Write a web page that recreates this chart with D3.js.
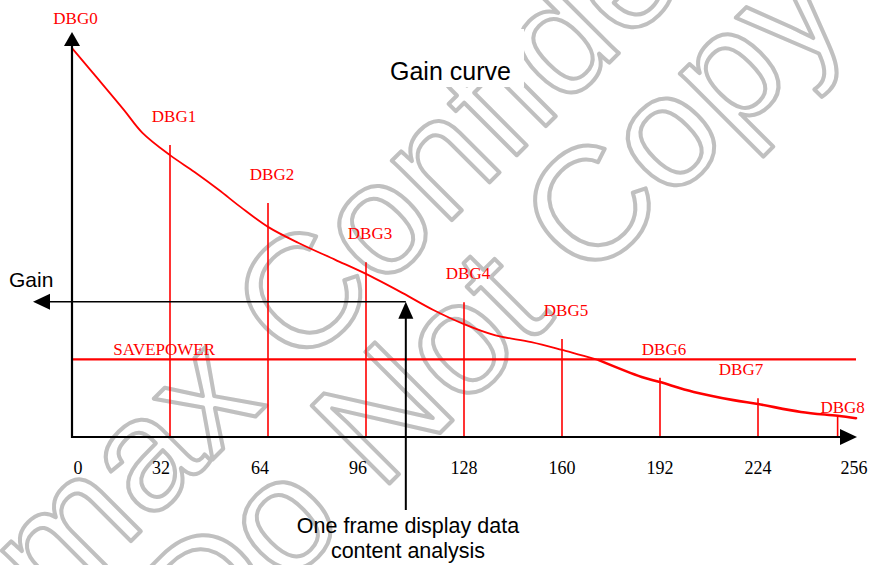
<!DOCTYPE html>
<html>
<head>
<meta charset="utf-8">
<script src="https://cdn.jsdelivr.net/npm/d3@7"></script>
<style>
  html, body { margin: 0; padding: 0; background: #fff; }
  svg { display: block; }
</style>
</head>
<body>
<svg id="chart" width="873" height="565"></svg>
<script>
// Horizontal axis: display-data level (0..256)
const xTicks = [0, 32, 64, 96, 128, 160, 192, 224, 256];

// Gain curve sampled along the data level
const curveX    = [0, 8, 17, 23, 32, 40, 48, 55, 64, 74, 86, 96, 108, 118, 128, 138, 150, 160, 172, 186, 192, 203, 216, 224, 238, 250, 256];
const curveGain = [99.2, 91.8, 83.4, 77.6, 71.9, 67.6, 63.0, 58.7, 53.6, 49.5, 45.2, 41.6, 36.7, 32.4, 28.8, 26.0, 24.2, 22.2, 19.6, 15.3, 14.0, 11.5, 9.4, 8.4, 6.4, 5.4, 4.8];

// DBG gain registers: position on the data axis and height of their marker
const dbgNames = ["DBG0", "DBG1", "DBG2", "DBG3", "DBG4", "DBG5", "DBG6", "DBG7", "DBG8"];
const dbgX     = [0, 32, 64, 96, 128, 160, 192, 224, 250];
const dbgTop   = [104, 74.5, 59.7, 44.6, 34.4, 25.0, 15.1, 9.9, 5.1];

// Save-power threshold and the example analysis point
const savePowerGain = 19.8;
const analysisX = 109;
const analysisGain = 34.5;

const svg = d3.select("#chart");

const x = d3.scaleLinear().domain([0, 256]).range([72, 856]);
const y = d3.scaleLinear().domain([0, 100]).range([437, 45]);

const RED = "#ff0000";
const SERIF = "'Liberation Serif', 'Times New Roman', serif";
const SANS = "'Liberation Sans', Arial, sans-serif";

// ---- watermark (outlined text) ----
const wm = svg.append("g").attr("class", "watermark");
const wmLines = [
  { text: "Himax Confidential", cx: 422, cy: 250 },
  { text: "Do Not Copy", cx: 528, cy: 345 }
];
wmLines.forEach(l => {
  wm.append("text")
    .attr("transform", `translate(${l.cx},${l.cy}) rotate(-45)`)
    .attr("text-anchor", "middle")
    .attr("font-family", SANS)
    .attr("font-size", 160)
    .attr("fill", "none")
    .attr("stroke", "#c0c0c0")
    .attr("stroke-width", 4)
    .attr("stroke-linejoin", "round")
    .text(l.text);
});

// ---- title box ----
svg.append("rect")
  .attr("x", 365).attr("y", 29).attr("width", 159).attr("height", 58)
  .attr("fill", "#fff");
svg.append("text")
  .attr("x", 390).attr("y", 80)
  .attr("font-family", SANS).attr("font-size", 25)
  .attr("fill", "#000")
  .text("Gain curve");

// ---- arrow helper ----
function arrowHead(tipX, tipY, dir, len, half) {
  let pts;
  if (dir === "up")    pts = [[tipX, tipY], [tipX - half, tipY + len], [tipX + half, tipY + len]];
  if (dir === "right") pts = [[tipX, tipY], [tipX - len, tipY - half], [tipX - len, tipY + half]];
  if (dir === "left")  pts = [[tipX, tipY], [tipX + len, tipY - half], [tipX + len, tipY + half]];
  svg.append("path").attr("d", d3.line()(pts) + "Z").attr("fill", "#000");
}

// ---- DBG marker lines ----
const dbg = dbgNames.map((n, i) => ({ name: n, x: dbgX[i], top: dbgTop[i] }));
svg.append("g").selectAll("line")
  .data(dbg.slice(1))
  .join("line")
  .attr("x1", d => x(d.x)).attr("x2", d => x(d.x))
  .attr("y1", y(0)).attr("y2", d => y(d.top))
  .attr("stroke", RED).attr("stroke-width", 1.6);

// ---- save-power threshold ----
svg.append("line")
  .attr("x1", x(0)).attr("x2", x(256))
  .attr("y1", y(savePowerGain)).attr("y2", y(savePowerGain))
  .attr("stroke", RED).attr("stroke-width", 2.2);
svg.append("text")
  .attr("x", x(13.5)).attr("y", y(savePowerGain) - 4.5)
  .attr("font-family", SERIF).attr("font-size", 17)
  .attr("fill", RED)
  .text("SAVEPOWER");

// ---- gain curve (pen gets heavier on the low-gain tail) ----
const curvePts = curveX.map((v, i) => [v, curveGain[i]]);
const split = curveX.indexOf(172);
const curveLine = d3.line().x(d => x(d[0])).y(d => y(d[1])).curve(d3.curveCatmullRom.alpha(0.5));
svg.append("path")
  .datum(curvePts.slice(0, split + 1))
  .attr("d", curveLine)
  .attr("fill", "none")
  .attr("stroke", RED)
  .attr("stroke-width", 1.8);
svg.append("path")
  .datum(curvePts.slice(split))
  .attr("d", curveLine)
  .attr("fill", "none")
  .attr("stroke", RED)
  .attr("stroke-width", 2.6)
  .attr("stroke-linecap", "round");

// ---- DBG labels ----
const labelShift = { DBG0: { dx: 3.5, dy: -8 }, DBG7: { dx: -17, dy: -23 }, DBG8: { dx: 5, dy: -4 } };
svg.append("g").selectAll("text")
  .data(dbg)
  .join("text")
  .attr("x", d => x(d.x) + (labelShift[d.name] ? labelShift[d.name].dx : 4))
  .attr("y", d => (d.name === "DBG0" ? 32 : y(d.top)) + (labelShift[d.name] ? labelShift[d.name].dy : -23))
  .attr("text-anchor", "middle")
  .attr("font-family", SERIF).attr("font-size", 17)
  .attr("fill", RED)
  .text(d => d.name);

// ---- axes ----
svg.append("line")
  .attr("x1", x(0)).attr("x2", x(0))
  .attr("y1", y(0) + 1).attr("y2", 45)
  .attr("stroke", "#000").attr("stroke-width", 2.2);
arrowHead(x(0), 32, "up", 14, 8);

svg.append("line")
  .attr("x1", x(0) - 1).attr("x2", 842)
  .attr("y1", y(0)).attr("y2", y(0))
  .attr("stroke", "#000").attr("stroke-width", 2.2);
arrowHead(857, y(0), "right", 17, 8);

// tick labels along the data axis
const tickShift = { 0: 6, 32: -9, 64: -8, 96: -8, 256: -2 };
svg.append("g").selectAll("text")
  .data(xTicks)
  .join("text")
  .attr("x", d => x(d) + (tickShift[d] || 0))
  .attr("y", 474)
  .attr("text-anchor", "middle")
  .attr("font-family", SERIF).attr("font-size", 18)
  .attr("fill", "#000")
  .text(d => d);

// ---- gain read-out arrows ----
const ax = x(analysisX), ay = y(analysisGain);
svg.append("line")
  .attr("x1", ax).attr("x2", 48)
  .attr("y1", ay).attr("y2", ay)
  .attr("stroke", "#000").attr("stroke-width", 1.6);
arrowHead(33, ay, "left", 17, 8);

svg.append("line")
  .attr("x1", ax).attr("x2", ax)
  .attr("y1", 510).attr("y2", ay + 15)
  .attr("stroke", "#000").attr("stroke-width", 2);
arrowHead(ax, ay, "up", 17, 7.5);

svg.append("text")
  .attr("x", 9).attr("y", 287)
  .attr("font-family", SANS).attr("font-size", 21)
  .attr("fill", "#000")
  .text("Gain");

const note = svg.append("text")
  .attr("text-anchor", "middle")
  .attr("font-family", SANS).attr("font-size", 21.5)
  .attr("fill", "#000");
note.append("tspan").attr("x", 408).attr("y", 533).text("One frame display data");
note.append("tspan").attr("x", 408).attr("y", 558).text("content analysis");
</script>
</body>
</html>
